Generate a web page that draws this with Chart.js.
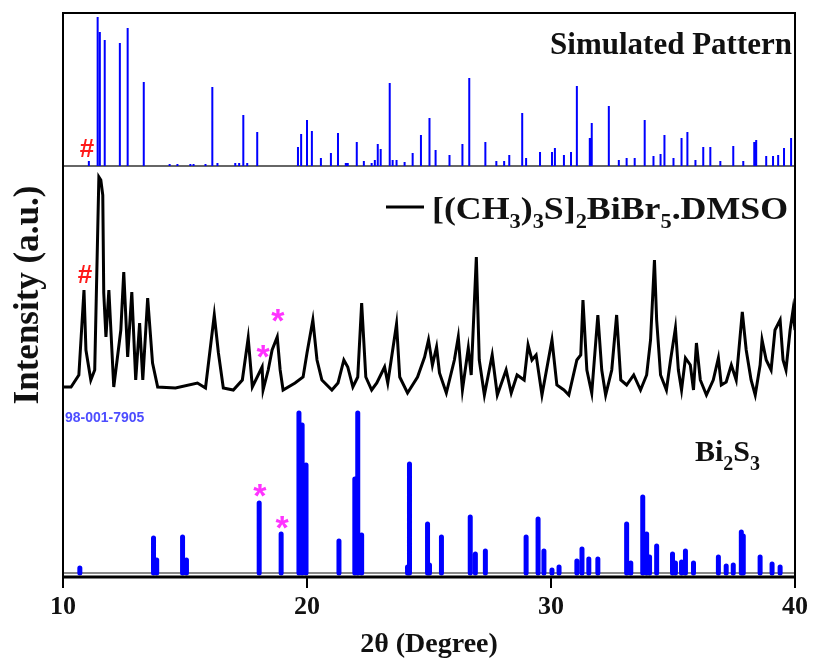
<!DOCTYPE html>
<html lang="en">
<head>
<meta charset="UTF-8">
<title>XRD patterns</title>
<style>
  html, body { margin: 0; padding: 0; background: #fff; }
  #wrap { width: 817px; height: 668px; }
</style>
</head>
<body>
<div id="wrap"><canvas id="xrd" width="817" height="668"></canvas></div>
<script src="https://cdn.jsdelivr.net/npm/chart.js"></script>
<script>
// ---- data (2θ in degrees, intensity in arbitrary units) ----
const xTicks = [10, 20, 30, 40];

// measured pattern [(CH3)3S]2BiBr5.DMSO
const expTheta = [
  10.00, 10.33, 10.65, 10.86, 10.94, 11.14, 11.30, 11.47, 11.55, 11.63,
  11.67, 11.76, 11.88, 12.08, 12.37, 12.49, 12.65, 12.82, 12.98, 13.14,
  13.27, 13.47, 13.67, 13.88, 14.61, 15.51, 15.84, 16.20, 16.37, 16.57,
  16.98, 17.35, 17.59, 17.76, 18.16, 18.20, 18.41, 18.57, 18.78, 18.90,
  19.02, 19.51, 19.84, 20.00, 20.24, 20.41, 20.61, 21.02, 21.27, 21.51,
  21.67, 21.88, 22.08, 22.24, 22.41, 22.65, 22.86, 23.18, 23.31, 23.67,
  23.80, 24.12, 24.53, 24.82, 24.98, 25.14, 25.31, 25.43, 25.71, 26.04,
  26.20, 26.37, 26.61, 26.73, 26.94, 27.06, 27.27, 27.59, 27.80, 28.16,
  28.37, 28.61, 28.90, 29.06, 29.22, 29.39, 29.63, 30.04, 30.24, 30.53,
  30.73, 31.06, 31.22, 31.31, 31.47, 31.67, 31.92, 32.08, 32.24, 32.49,
  32.69, 32.86, 33.10, 33.39, 33.67, 33.92, 34.08, 34.24, 34.33, 34.49,
  34.73, 34.90, 35.10, 35.22, 35.35, 35.51, 35.71, 35.84, 35.96, 36.12,
  36.37, 36.65, 36.86, 36.98, 37.18, 37.39, 37.59, 37.84, 38.00, 38.20,
  38.37, 38.57, 38.65, 38.82, 39.02, 39.18, 39.39, 39.51, 39.63, 39.80,
  39.92, 40.00
];
const expIntensity = [
  8, 8, 20, 105, 45, 15, 25, 218, 215, 200,
  102, 58, 105, 8, 65, 123, 38, 103, 15, 72,
  15, 97, 32, 8, 7, 12, 7, 80, 42, 7,
  5, 15, 57, 8, 28, 5, 25, 45, 58, 25,
  5, 12, 18, 42, 75, 35, 15, 5, 12, 35,
  28, 8, 18, 92, 18, 5, 12, 28, 12, 71,
  18, 2, 18, 38, 55, 30, 48, 22, 2, 35,
  58, 5, 47, 20, 138, 35, 0, 40, 0, 25,
  2, 20, 15, 50, 35, 40, 0, 55, 10, 5,
  0, 35, 40, 95, 25, 2, 80, 25, 0, 25,
  80, 15, 10, 20, 5, 20, 55, 135, 75, 20,
  5, 35, 67, 25, 5, 37, 30, 5, 52, 15,
  0, 15, 37, 10, 13, 30, 15, 83, 45, 15,
  0, 30, 55, 35, 25, 65, 75, 35, 25, 65,
  85, 65
];

// simulated pattern (sticks)
const simTheta = [
  11.06, 11.42, 11.51, 11.71, 12.33, 12.65, 13.31, 14.37, 14.69, 15.22,
  15.35, 15.84, 16.12, 16.33, 17.06, 17.22, 17.39, 17.55, 17.96, 19.63,
  19.76, 20.00, 20.20, 20.57, 20.98, 21.27, 21.59, 21.67, 22.04, 22.33,
  22.65, 22.78, 22.90, 23.02, 23.39, 23.51, 23.67, 24.00, 24.33, 24.67,
  25.02, 25.27, 25.84, 26.37, 26.65, 27.31, 27.76, 28.08, 28.29, 28.82,
  28.98, 29.55, 30.04, 30.16, 30.53, 30.82, 31.06, 31.59, 31.67, 32.37,
  32.78, 33.10, 33.43, 33.84, 34.20, 34.49, 34.65, 35.02, 35.35, 35.59,
  35.92, 36.24, 36.53, 36.94, 37.47, 37.88, 38.33, 38.41, 38.82, 39.10,
  39.31, 39.55, 39.84
];
const simHeight = [
  5, 149, 134, 126, 123, 138, 84, 2, 2, 2,
  2, 2, 79, 3, 3, 3, 51, 3, 34, 19,
  32, 46, 35, 8, 13, 33, 3, 3, 24, 5,
  3, 6, 22, 17, 83, 6, 6, 4, 13, 31,
  48, 16, 11, 22, 88, 24, 5, 5, 11, 53,
  8, 14, 14, 18, 11, 14, 80, 28, 43, 60,
  6, 8, 8, 46, 10, 12, 31, 8, 28, 34,
  6, 19, 19, 5, 20, 5, 24, 26, 10, 10,
  11, 18, 28
];

// Bi2S3 reference card 98-001-7905
const bisTheta = [
  10.69, 13.71, 13.84, 14.90, 15.06, 18.04, 18.94, 19.67, 19.80, 19.96,
  21.31, 21.96, 22.08, 22.24, 24.12, 24.20, 24.94, 25.02, 25.51, 26.69,
  26.90, 27.31, 28.98, 29.47, 29.71, 30.04, 30.33, 31.06, 31.27, 31.55,
  31.92, 33.10, 33.27, 33.76, 33.92, 34.04, 34.33, 34.98, 35.10, 35.35,
  35.51, 35.84, 36.86, 37.18, 37.47, 37.80, 37.88, 38.57, 39.06, 39.39
];
const bisHeight = [
  5, 35, 13, 36, 13, 70, 39, 160, 148, 108,
  32, 94, 160, 38, 6, 109, 49, 8, 36, 56,
  19, 22, 36, 54, 22, 3, 6, 12, 24, 14,
  14, 49, 10, 76, 39, 16, 27, 19, 10, 11,
  22, 10, 16, 7, 8, 41, 37, 16, 9, 6
];

// marks on the figure: [2θ, height on the stacked scale, symbol]
const marks = [
  [10.98, 429, '#'], [10.90, 303, '#'],
  [18.81, 262, '*'], [18.20, 226, '*'],
  [18.07, 87, '*'], [18.98, 55, '*']
];

// vertical offsets of the stacked patterns
const BASE_SIM = 411, BASE_EXP = 182, BASE_BIS = 4;

function sticks(theta, h, base) {
  const pts = [];
  theta.forEach((t, i) => {
    pts.push({x: t, y: base}, {x: t, y: base + h[i]}, {x: t, y: null});
  });
  return pts;
}

const serif = '"Liberation Serif", "Times New Roman", serif';
const sans = '"Liberation Sans", Arial, sans-serif';

// text with subscripts, parts = [[text, isSub], ...]; stretched to fit width if given
function drawSub(ctx, parts, x, y, size, subSize, subDrop, fitWidth) {
  const fontOf = sub => 'bold ' + (sub ? subSize : size) + 'px ' + serif;
  let total = 0;
  for (const [t, sub] of parts) {
    ctx.font = fontOf(sub);
    total += ctx.measureText(t).width;
  }
  const sx = fitWidth ? fitWidth / total : 1;
  ctx.save();
  ctx.translate(x, y);
  ctx.scale(sx, 1);
  ctx.textAlign = 'left';
  ctx.textBaseline = 'alphabetic';
  let cx = 0;
  for (const [t, sub] of parts) {
    ctx.font = fontOf(sub);
    ctx.fillText(t, cx, sub ? subDrop : 0);
    cx += ctx.measureText(t).width;
  }
  ctx.restore();
}

const decor = {
  id: 'decor',
  afterDatasetsDraw(chart) {
    const {ctx, chartArea: a, scales} = chart;
    ctx.save();
    // frame
    ctx.strokeStyle = '#000';
    ctx.lineWidth = 2;
    ctx.beginPath();
    ctx.moveTo(a.left, a.bottom);
    ctx.lineTo(a.left, a.top);
    ctx.lineTo(a.right, a.top);
    ctx.lineTo(a.right, a.bottom);
    ctx.stroke();
    ctx.lineWidth = 3;
    ctx.beginPath();
    ctx.moveTo(a.left - 1, a.bottom);
    ctx.lineTo(a.right + 1, a.bottom);
    ctx.stroke();

    ctx.fillStyle = '#111';
    ctx.font = 'bold 31px ' + serif;
    ctx.textAlign = 'right';
    ctx.textBaseline = 'alphabetic';
    ctx.fillText('Simulated Pattern', a.right - 3, 54);

    // legend for the measured pattern
    ctx.lineWidth = 3;
    ctx.beginPath();
    ctx.moveTo(386, 207);
    ctx.lineTo(424, 207);
    ctx.stroke();
    drawSub(ctx, [['[(CH', 0], ['3', 1], [')', 0], ['3', 1], ['S]', 0], ['2', 1],
      ['BiBr', 0], ['5', 1], ['.DMSO', 0]], 432, 219, 32, 20, 9, 356);

    drawSub(ctx, [['Bi', 0], ['2', 1], ['S', 0], ['3', 1]], 695, 461, 30, 20, 9);

    ctx.fillStyle = '#4d4dff';
    ctx.font = 'bold 14px ' + sans;
    ctx.textAlign = 'left';
    ctx.textBaseline = 'top';
    ctx.fillText('98-001-7905', 65, 411);

    // # and * marks, centred on their glyph boxes
    ctx.textAlign = 'center';
    ctx.textBaseline = 'alphabetic';
    for (const [t, v, s] of marks) {
      ctx.font = s === '#' ? 'bold 26px ' + sans : 'bold 34px ' + sans;
      ctx.fillStyle = s === '#' ? '#ff1a1a' : '#ff33ff';
      const m = ctx.measureText(s);
      const px = scales.x.getPixelForValue(t);
      const py = scales.y.getPixelForValue(v);
      ctx.fillText(s, px, py + (m.actualBoundingBoxAscent - m.actualBoundingBoxDescent) / 2);
    }
    ctx.restore();
  }
};

new Chart(document.getElementById('xrd'), {
  type: 'line',
  data: {
    datasets: [
      {
        label: 'measured',
        data: expTheta.map((t, i) => ({x: t, y: BASE_EXP + expIntensity[i]})),
        borderColor: '#000',
        borderWidth: 3,
        pointRadius: 0,
        order: 1
      },
      {
        label: 'simulated',
        data: sticks(simTheta, simHeight, BASE_SIM),
        borderColor: '#0000ff',
        borderWidth: 2,
        pointRadius: 0,
        spanGaps: false,
        order: 2
      },
      {
        label: 'Bi2S3',
        data: sticks(bisTheta, bisHeight, BASE_BIS),
        borderColor: '#0000ff',
        borderWidth: 5,
        borderCapStyle: 'round',
        pointRadius: 0,
        spanGaps: false,
        order: 2
      },
      {
        label: 'sim baseline',
        data: [{x: 10, y: BASE_SIM}, {x: 40, y: BASE_SIM}],
        borderColor: '#333',
        borderWidth: 1.5,
        pointRadius: 0,
        order: 10
      },
      {
        label: 'Bi2S3 baseline',
        data: [{x: 10, y: BASE_BIS}, {x: 40, y: BASE_BIS}],
        borderColor: '#888',
        borderWidth: 2,
        pointRadius: 0,
        order: 10
      }
    ]
  },
  options: {
    responsive: false,
    animation: false,
    layout: {padding: {top: 13, right: 22, left: 0, bottom: 0}},
    plugins: {legend: {display: false}, tooltip: {enabled: false}},
    scales: {
      x: {
        type: 'linear',
        min: 10,
        max: 40,
        afterBuildTicks: axis => { axis.ticks = xTicks.map(v => ({value: v})); },
        afterFit: axis => { axis.height = 91; },
        border: {display: false},
        grid: {drawOnChartArea: false, drawTicks: true, tickLength: 11, color: '#000', lineWidth: 2},
        ticks: {color: '#111', padding: 4, font: {family: serif, size: 26, weight: 'bold'}},
        title: {
          display: true,
          text: '2θ (Degree)',
          color: '#111',
          font: {family: serif, size: 28, weight: 'bold'},
          padding: {top: 0, bottom: 6}
        }
      },
      y: {
        min: 0,
        max: 564,
        afterFit: axis => { axis.width = 63; },
        border: {display: false},
        grid: {display: false},
        ticks: {display: false},
        title: {
          display: true,
          text: 'Intensity (a.u.)',
          color: '#111',
          font: {family: serif, size: 35, weight: 'bold'},
          padding: {top: 8, bottom: 0}
        }
      }
    }
  },
  plugins: [decor]
});
</script>
</body>
</html>
